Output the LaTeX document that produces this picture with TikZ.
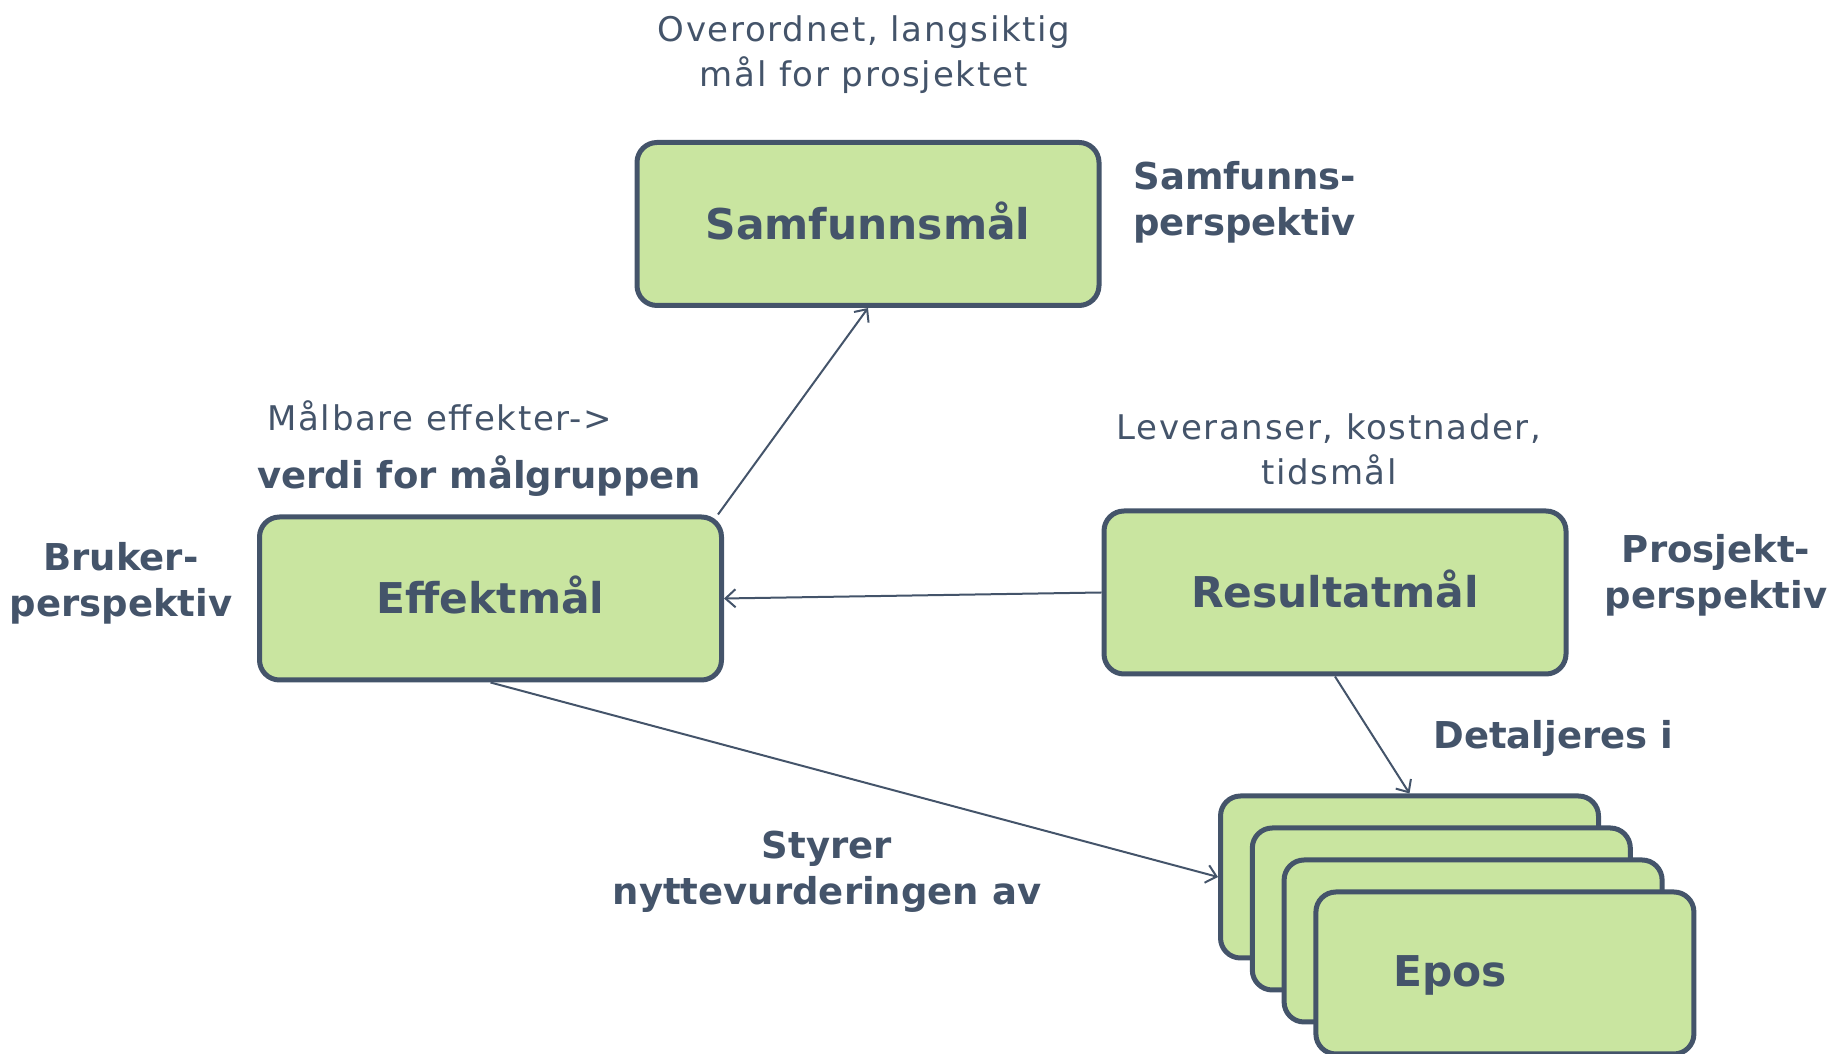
\documentclass[tikz,border=0pt]{standalone}
\usepackage{fontspec}
\setmainfont{DejaVu Sans}
\newfontfamily\notefont[LetterSpace=5]{DejaVu Sans}
\usetikzlibrary{arrows.meta}
\definecolor{goalslate}{HTML}{44546A}
\definecolor{goalgreen}{HTML}{C9E5A0}
\tikzset{
  goal label/.style={text=goalslate,font=\fontsize{21.2}{26}\selectfont\bfseries,
    text height=15.5pt,text depth=0pt},
  goal/.style={goal label,draw=goalslate,fill=goalgreen,line width=2.5pt,
    rounded corners=10pt,minimum width=231pt,minimum height=81.5pt},
  epos box/.style={goal,minimum width=189pt,minimum height=81pt},
  note/.style={text=goalslate,font=\notefont\fontsize{17}{22.5}\selectfont,
    align=center,inner sep=0pt},
  heading/.style={note,font=\fontsize{18.5}{23}\selectfont\bfseries},
  link/.style={draw=goalslate,line width=1pt,
    -{Straight Barb[length=5pt,width=9pt]}}
}
\begin{document}
\begin{tikzpicture}[x=0.5pt,y=0.5pt]
  \useasboundingbox (0,0) rectangle (1831,1054);
  \node[goal] (samf) at (868,830) {Samfunnsmål};
  \node[goal] (eff) at (490.5,455.5) {Effektmål};
  \node[goal] (res) at (1335,461.5) {Resultatmål};
  \foreach \i in {0,...,3}
    \node[epos box] (epos\i) at ({1409.5+31.8*\i},{177-32*\i}) {};
  \node[goal label] (epos label) at (1450,82.5) {Epos};
  \node[note] (top note) at (864,999.5) {Overordnet, langsiktig\\mål for prosjektet};
  \node[heading,anchor=west,align=left] (samf side) at (1133,852) {Samfunns-\\perspektiv};
  \node[note,anchor=west] (eff note) at (267,638.3) {Målbare effekter->};
  \node[heading,anchor=west] (eff value) at (257,578) {verdi for målgruppen};
  \node[note] (res note) at (1329,604.5) {Leveranser, kostnader,\\tidsmål};
  \node[heading] (eff side) at (121,470.7) {Bruker-\\perspektiv};
  \node[heading] (res side) at (1716,478.7) {Prosjekt-\\perspektiv};
  \node[heading,anchor=west] (detail) at (1433,315.7) {Detaljeres i};
  \node[heading] (steer) at (827,182.5) {Styrer\\nyttevurderingen av};
  \draw[link] ([xshift=-3pt]eff.north east) -- (samf.south);
  \draw[link] (res.west) -- (eff.east);
  \draw[link] (eff.south) -- (epos0.west);
  \draw[link] (res.south) -- (epos0.north);
\end{tikzpicture}
\end{document}
